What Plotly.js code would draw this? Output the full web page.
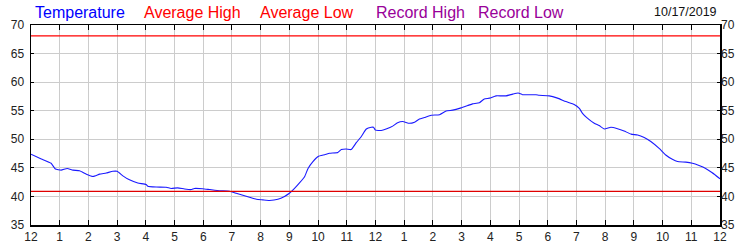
<!DOCTYPE html>
<html>
<head>
<meta charset="utf-8">
<script src="https://cdn.plot.ly/plotly-3.0.1.min.js"></script>
<style>html,body{margin:0;padding:0;background:#fff;}#chart{width:750px;height:250px;}</style>
</head>
<body>
<div id="chart"></div>
<script>
// Hours after midnight (0 = 12 AM, 24 = next 12 AM)
const hours = [0,0.36,0.7,0.85,1.05,1.26,1.46,1.69,1.93,2.16,2.39,2.62,2.85,3.0,3.2,3.43,3.72,4.01,4.07,4.36,4.71,4.88,5.11,5.35,5.58,5.69,5.98,6.23,6.57,6.92,7.15,7.38,7.61,7.85,8.08,8.31,8.6,8.83,9.0,9.18,9.36,9.53,9.65,9.82,10.0,10.23,10.4,10.69,10.81,10.98,11.15,11.33,11.5,11.68,11.85,11.93,12.0,12.2,12.37,12.6,12.77,12.95,13.18,13.36,13.53,13.7,13.94,14.23,14.46,14.69,14.98,15.21,15.38,15.62,15.79,15.97,16.2,16.37,16.55,16.78,16.97,17.12,17.59,17.7,18.05,18.34,18.63,18.92,19.1,19.21,19.38,19.62,19.79,19.97,20.2,20.43,20.66,20.9,21.13,21.36,21.59,21.88,22.11,22.34,22.52,22.81,23.04,23.27,23.5,23.73,24.0];
const temperature = [47.4,46.55,45.8,44.8,44.6,44.9,44.6,44.5,43.9,43.5,43.9,44.1,44.4,44.4,43.6,42.9,42.35,42.1,41.8,41.65,41.6,41.4,41.5,41.3,41.2,41.4,41.35,41.2,41.0,40.9,40.55,40.2,39.85,39.5,39.4,39.3,39.5,40.0,40.55,41.4,42.4,43.45,44.9,46.1,47.0,47.3,47.55,47.7,48.2,48.3,48.2,49.4,50.45,51.8,52.1,52.1,51.6,51.55,51.8,52.3,52.9,53.1,52.8,53.0,53.55,53.8,54.2,54.3,54.95,55.1,55.5,55.9,56.2,56.4,57.05,57.2,57.6,57.6,57.6,57.9,58.1,57.8,57.8,57.7,57.6,57.2,56.6,56.1,55.4,54.55,53.7,52.8,52.4,51.8,52.1,51.85,51.45,50.9,50.75,50.3,49.6,48.4,47.25,46.5,46.1,46.0,45.8,45.4,44.9,44.15,43.1];
const avgHigh = 68.1;
const avgLow = 40.9;
const tickHours = [0,1,2,3,4,5,6,7,8,9,10,11,12,13,14,15,16,17,18,19,20,21,22,23,24];
const tickLabels = ["12","1","2","3","4","5","6","7","8","9","10","11","12","1","2","3","4","5","6","7","8","9","10","11","12"];
const yTicks = [35,40,45,50,55,60,65,70];
const legendNames = ["Temperature","Average High","Average Low","Record High","Record Low"];
const legendColors = ["#0000ff","#ff0000","#ff0000","#990099","#990099"];
const legendX = [33,142,258,374,476];
const dateLabel = "10/17/2019";

const traces = [
  {x:[0,24], y:[avgHigh,avgHigh], mode:'lines', line:{color:'#ff0000', width:1.3}, hoverinfo:'skip', showlegend:false},
  {x:[0,24], y:[avgLow,avgLow], mode:'lines', line:{color:'#e00000', width:1.3}, hoverinfo:'skip', showlegend:false, yaxis:'y2'},
  {x:hours, y:temperature, mode:'lines', line:{color:'#1a1aff', width:1.1, shape:'spline', smoothing:0.4}, showlegend:false}
];

const annotations = legendNames.map((n,i)=>({
  text:n, xref:'paper', yref:'paper', x:(legendX[i]-31)/689, y:1, yshift:13,
  xanchor:'left', yanchor:'middle', showarrow:false,
  font:{family:'Liberation Sans, Arial, sans-serif', size:16, color:legendColors[i]}
}));
annotations.push({text:dateLabel, xref:'paper', yref:'paper', x:(719-31)/689, y:1, yshift:13,
  xanchor:'right', yanchor:'middle', showarrow:false,
  font:{family:'Liberation Sans, Arial, sans-serif', size:12.5, color:'#111'}});

const tickFont = {family:'Liberation Sans, Arial, sans-serif', size:12, color:'#222'};
const layout = {
  width:750, height:250,
  margin:{l:31, r:30, t:25, b:25, pad:0},
  paper_bgcolor:'#fff', plot_bgcolor:'#fff',
  showlegend:false,
  xaxis:{range:[0,24], tickvals:tickHours, ticktext:tickLabels, showgrid:true, gridcolor:'#cccccc', gridwidth:1,
    zeroline:false, showline:true, linecolor:'#000', linewidth:1.5, mirror:'ticks', ticks:'inside', ticklen:5, tickcolor:'#000',
    tickfont:tickFont, fixedrange:true},
  yaxis:{range:[35,70], tickvals:yTicks, showgrid:true, gridcolor:'#cccccc', gridwidth:1, zeroline:false,
    showline:true, linecolor:'#000', linewidth:1.5, mirror:'ticks', ticks:'inside', ticklen:3, tickcolor:'#000',
    tickfont:tickFont, ticklabelstandoff:3},
  yaxis2:{range:[35,70], tickvals:yTicks, overlaying:'y', side:'right', showgrid:false, zeroline:false,
    showline:false, ticks:'', tickfont:tickFont},
  annotations:annotations
};
Plotly.newPlot('chart', traces, layout, {staticPlot:true});
</script>
</body>
</html>
